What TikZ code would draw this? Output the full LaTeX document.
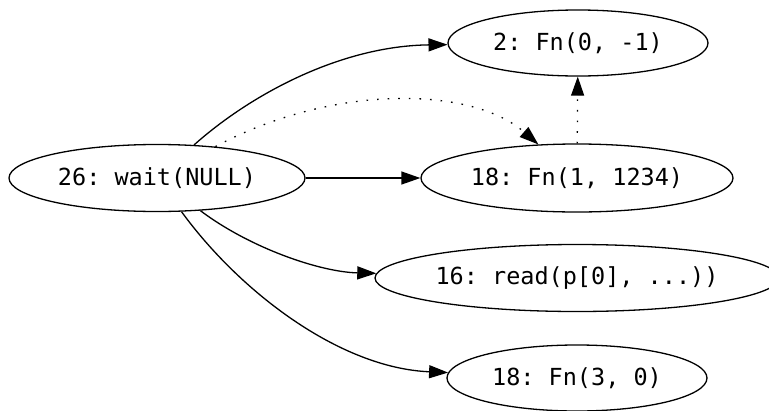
\documentclass[tikz,border=0pt]{standalone}
\usepackage{fontspec}
\setmonofont{DejaVu Sans Mono}
\usetikzlibrary{shapes.geometric,arrows.meta}
\tikzset{
  knoten/.style={draw, ellipse, line width=1.3pt, inner sep=0pt,
    font=\ttfamily\fontsize{23.5}{27}\selectfont},
  kante/.style={line width=1.3pt, -{Triangle[length=19pt,width=13pt]}},
  punkte/.style={kante, dash pattern=on 1.6pt off 9pt}
}
\begin{document}
\begin{tikzpicture}[x=1pt, y=-1pt]
  \useasboundingbox (0,0) rectangle (769,410);

  \node[knoten, minimum width=296pt, minimum height=67pt] (w26) at (157,178) {26: wait(NULL)};
  \node[knoten, minimum width=260pt, minimum height=66pt] (fn2) at (578,43) {2: Fn(0, -1)};
  \node[knoten, minimum width=312pt, minimum height=68pt] (fn18a) at (577,178) {18: Fn(1, 1234)};
  \node[knoten, minimum width=404pt, minimum height=67pt] (rd16) at (577,278) {16: read(p[0], ...))};
  \node[knoten, minimum width=260pt, minimum height=66pt] (fn18b) at (577,378) {18: Fn(3, 0)};

  % Kanten
  \draw[kante] (w26) .. controls (250,95) and (340,46) .. (fn2);
  \draw[kante] (w26) -- (fn18a);
  \draw[kante] (w26) .. controls (250,248) and (320,272) .. (rd16);
  \draw[kante] (w26) .. controls (240,292) and (340,368) .. (fn18b);
  \draw[punkte] (w26) .. controls (330,85) and (470,85) .. (fn18a);
  \draw[punkte] (fn18a) -- (fn2);
\end{tikzpicture}
\end{document}
